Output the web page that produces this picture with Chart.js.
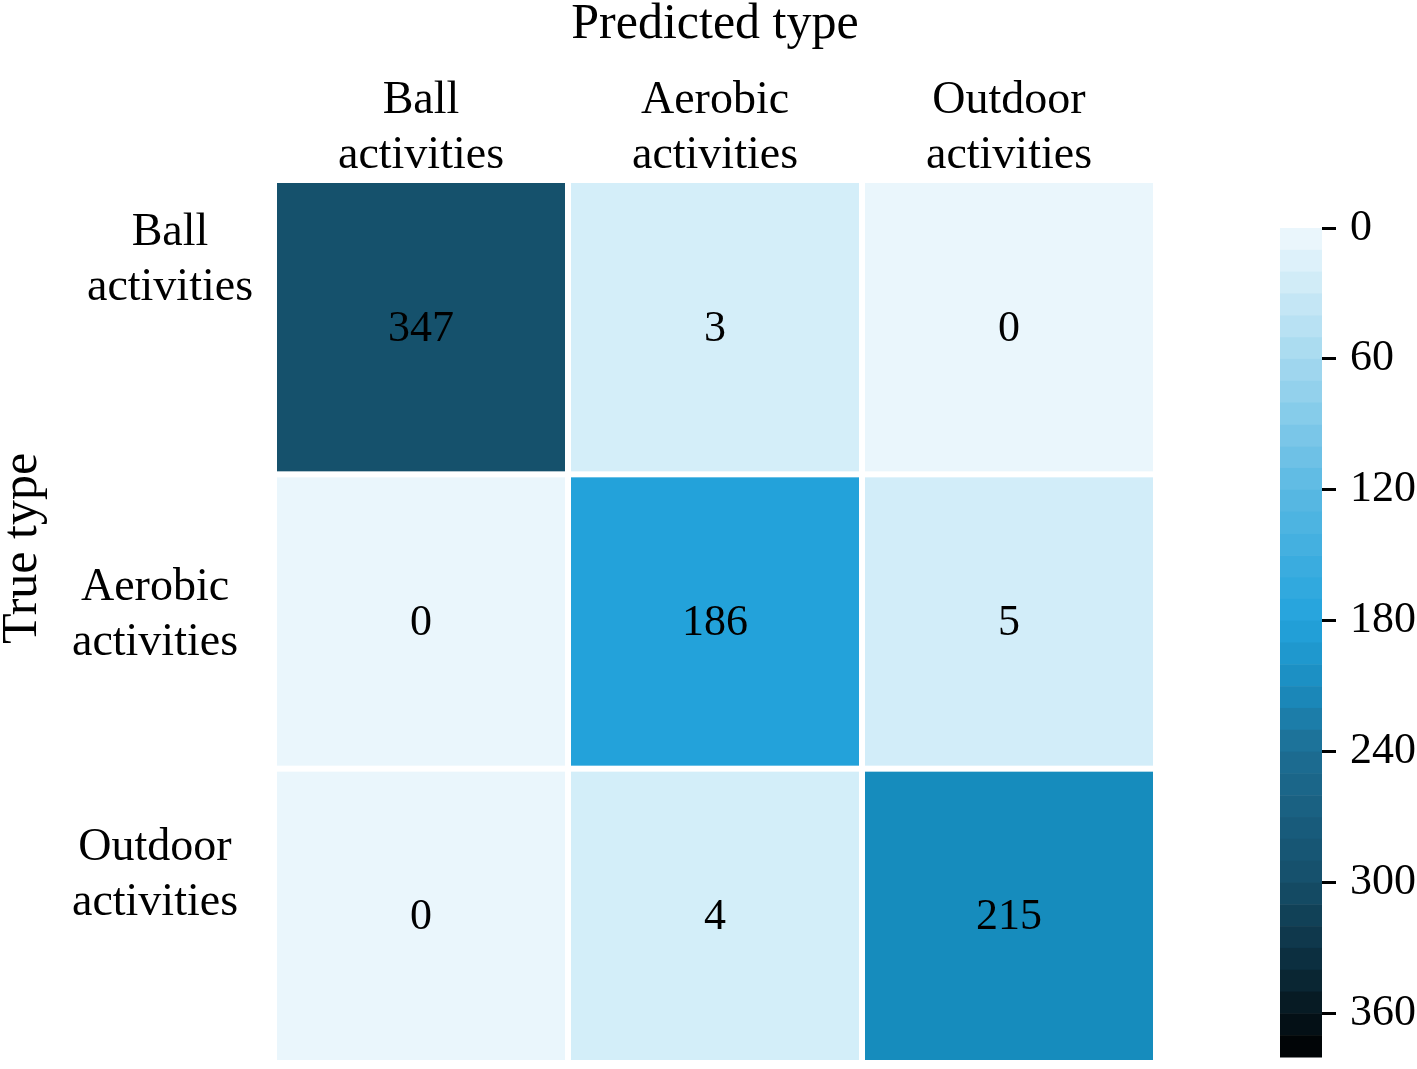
<!DOCTYPE html>
<html>
<head>
<meta charset="utf-8">
<script src="https://cdn.jsdelivr.net/npm/chart.js@4.4.0/dist/chart.umd.min.js"></script>
<style>
  html, body { margin: 0; padding: 0; background: #fff; }
  #wrap { position: relative; width: 1417px; height: 1069px; overflow: hidden; }
  #mainBox { position: absolute; left: 0; top: 0; width: 1417px; height: 1069px; }
  #cbarBox { position: absolute; left: 1240px; top: 200px; width: 177px; height: 869px; }
</style>
</head>
<body>
<div id="wrap">
  <div id="mainBox"><canvas id="main"></canvas></div>
  <div id="cbarBox"><canvas id="cbar"></canvas></div>
</div>
<script>
// --- Data ---
const predictedTypes = [['Ball', 'activities'], ['Aerobic', 'activities'], ['Outdoor', 'activities']];
const trueTypes = [['Ball', 'activities'], ['Aerobic', 'activities'], ['Outdoor', 'activities']];
const ballRow = [347, 3, 0];
const aerobicRow = [0, 186, 5];
const outdoorRow = [0, 4, 215];
const colorbarTicks = [0, 60, 120, 180, 240, 300, 360];
const colorbarMax = 380;

// --- Colours ---
// cells as seen in the picture
const cellStops = [[0, '#eaf6fc'], [3, '#d4eef9'], [186, '#23a2da'], [215, '#168cbd'], [347, '#15516c']];
// colorbar bands
const barStops = [[0, '#f0f9fd'], [60, '#a5d9ef'], [120, '#5bb9e3'], [180, '#23a3dc'], [210, '#1a8cbf'],
  [240, '#1d6e93'], [300, '#154e69'], [340, '#0b2b3a'], [380, '#000000']];

function hexToRgb(h) {
  return [1, 3, 5].map(i => parseInt(h.slice(i, i + 2), 16));
}
function lerpColor(stops, v) {
  if (v <= stops[0][0]) return stops[0][1];
  for (let i = 1; i < stops.length; i++) {
    if (v <= stops[i][0]) {
      const [v0, c0] = stops[i - 1], [v1, c1] = stops[i];
      const t = (v - v0) / (v1 - v0);
      const a = hexToRgb(c0), b = hexToRgb(c1);
      return 'rgb(' + a.map((x, k) => Math.round(x + (b[k] - x) * t)).join(',') + ')';
    }
  }
  return stops[stops.length - 1][1];
}

const serif = "'Liberation Serif', 'Times New Roman', serif";
Chart.defaults.font.family = serif;
Chart.defaults.color = '#000';
Chart.defaults.animation = false;

// no extra room for end labels, layout padding handles it
function noEndPadding(s) {
  s.paddingTop = 0;
  s.paddingBottom = 0;
  s.paddingLeft = 0;
  s.paddingRight = 0;
}

// --- Heatmap ---
const matrix = [ballRow, aerobicRow, outdoorRow];
const points = [];
matrix.forEach((row, r) => row.forEach((v, c) => points.push({ x: c, y: r, v })));

const heatCells = {
  id: 'heatCells',
  beforeDatasetsDraw(chart) {
    const { ctx, scales: { x, y } } = chart;
    const w = (x.right - x.left) / predictedTypes.length;
    const h = (y.bottom - y.top) / trueTypes.length;
    const gap = 3;
    ctx.save();
    chart.data.datasets[0].data.forEach(p => {
      const cx = x.getPixelForValue(p.x);
      const cy = y.getPixelForValue(p.y);
      ctx.fillStyle = lerpColor(cellStops, p.v);
      ctx.fillRect(cx - w / 2 + gap, cy - h / 2 + gap, w - 2 * gap, h - 2 * gap);
      ctx.fillStyle = '#000';
      ctx.font = '44px ' + serif;
      ctx.textAlign = 'center';
      ctx.textBaseline = 'middle';
      ctx.fillText(String(p.v), cx, cy + 2);
    });
    ctx.restore();
  }
};

// y labels and title, placed a bit off-centre like the original figure
const rowLabels = {
  id: 'rowLabels',
  afterDraw(chart) {
    const { ctx, scales: { y } } = chart;
    const inset = [104, 119, 119];   // distance of label centre from the cells
    const shift = [-67, -6, -40];    // vertical offset of label block
    const lh = 55;
    ctx.save();
    ctx.fillStyle = '#000';
    ctx.textAlign = 'center';
    ctx.textBaseline = 'middle';
    ctx.font = '46px ' + serif;
    trueTypes.forEach((lines, i) => {
      const cy = y.getPixelForValue(i) + shift[i];
      lines.forEach((t, k) => {
        ctx.fillText(t, y.right - inset[i], cy + (k - (lines.length - 1) / 2) * lh);
      });
    });
    ctx.font = '50px ' + serif;
    ctx.translate(23, (y.top + y.bottom) / 2 - 73);
    ctx.rotate(-Math.PI / 2);
    ctx.fillText('True type', 0, 0);
    ctx.restore();
  }
};

new Chart(document.getElementById('main'), {
  type: 'scatter',
  data: {
    datasets: [{ data: points, pointRadius: 0, pointHoverRadius: 0 }]
  },
  options: {
    responsive: true,
    maintainAspectRatio: false,
    devicePixelRatio: 1,
    layout: { padding: { left: 0, right: 261, top: 0, bottom: 6 } },
    plugins: { legend: { display: false }, tooltip: { enabled: false } },
    scales: {
      x: {
        type: 'category',
        labels: predictedTypes,
        position: 'top',
        offset: true,
        grid: { display: false },
        border: { display: false },
        ticks: { font: { size: 46, lineHeight: 1.2 }, padding: -12, maxRotation: 0 },
        title: { display: true, text: 'Predicted type', font: { size: 50, lineHeight: 1 }, padding: { top: 0, bottom: 0 } },
        afterFit: s => { s.height = 180; noEndPadding(s); }
      },
      y: {
        type: 'category',
        labels: trueTypes,
        offset: true,
        grid: { display: false },
        border: { display: false },
        ticks: { display: false },
        afterFit: s => { s.width = 274; noEndPadding(s); }
      }
    }
  },
  plugins: [heatCells, rowLabels]
});

// --- Colorbar ---
const colorBands = {
  id: 'colorBands',
  beforeDatasetsDraw(chart) {
    const { ctx, chartArea, scales: { y } } = chart;
    const step = 10;
    ctx.save();
    for (let v = 0; v < colorbarMax; v += step) {
      const y0 = y.getPixelForValue(v);
      const y1 = y.getPixelForValue(Math.min(v + step, colorbarMax));
      ctx.fillStyle = lerpColor(barStops, v + step / 2);
      ctx.fillRect(chartArea.left, y0, chartArea.right - chartArea.left, y1 - y0 + 0.5);
    }
    ctx.restore();
  }
};

new Chart(document.getElementById('cbar'), {
  type: 'scatter',
  data: { datasets: [{ data: [] }] },
  options: {
    responsive: true,
    maintainAspectRatio: false,
    devicePixelRatio: 1,
    layout: { padding: { left: 40, right: 0, top: 28, bottom: 12 } },
    plugins: { legend: { display: false }, tooltip: { enabled: false } },
    scales: {
      x: { display: false },
      y: {
        type: 'linear',
        position: 'right',
        min: 0,
        max: colorbarMax,
        reverse: true,
        afterBuildTicks: s => { s.ticks = colorbarTicks.map(v => ({ value: v })); },
        grid: { drawOnChartArea: false, tickLength: 14, tickWidth: 3, tickColor: '#000' },
        border: { display: false },
        ticks: { font: { size: 44 }, padding: 14 },
        afterFit: s => { s.width = 95; noEndPadding(s); }
      }
    }
  },
  plugins: [colorBands]
});
</script>
</body>
</html>
